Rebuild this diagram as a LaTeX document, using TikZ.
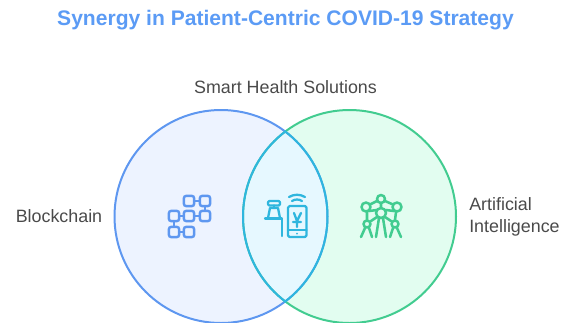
\documentclass[tikz,border=0pt]{standalone}
\usepackage{fontspec}
\setmainfont{Liberation Sans}
\definecolor{titleblue}{HTML}{5B9BF5}
\definecolor{labelgrey}{HTML}{4A4A4A}
\definecolor{lfill}{HTML}{EDF3FF}
\definecolor{lstroke}{HTML}{5E97F0}
\definecolor{rfill}{HTML}{E2FDF0}
\definecolor{rstroke}{HTML}{42CC90}
\definecolor{mfill}{HTML}{E6F8FF}
\definecolor{mstroke}{HTML}{2FB6DE}
\tikzset{
  x=0.75pt,y=-0.75pt,
  venn/.style={circle,minimum size=159.75pt,inner sep=0pt,outer sep=0pt},
  lbl/.style={text=labelgrey,font=\fontsize{13.4pt}{15pt}\selectfont,inner sep=0pt},
  ico/.style={line width=1.7pt,line cap=round,line join=round},
  bbox/.style={draw=lstroke,rounded corners=1.6pt,minimum size=7.6pt,inner sep=0pt,line width=1.8pt,fill=lfill},
}
\begin{document}
\begin{tikzpicture}
\useasboundingbox (0,0) rectangle (571,322);
\clip (0,0) rectangle (571,322);
\node[venn,fill=lfill] (L) at (221,216.5) {};
\node[venn,fill=rfill] (R) at (349.5,216.5) {};
\begin{scope}
  \clip (221,216.5) circle (106.5);
  \fill[mfill] (349.5,216.5) circle (106.5);
\end{scope}
\draw[lstroke,line width=1.5pt] (L.center) circle (106.5);
\draw[rstroke,line width=1.5pt] (R.center) circle (106.5);
\begin{scope}
  \clip (221,216.5) circle (107.5);
  \draw[mstroke,line width=1.5pt] (R.center) circle (106.5);
\end{scope}
\begin{scope}
  \clip (349.5,216.5) circle (107.5);
  \draw[mstroke,line width=1.5pt] (L.center) circle (106.5);
\end{scope}
\node[text=titleblue,font=\bfseries\fontsize{15.8pt}{18pt}\selectfont,inner sep=0pt] (title) at (285.5,20) {Synergy in Patient-Centric COVID-19 Strategy};
\node[lbl] (top) at (285.5,87.5) {Smart Health Solutions};
\node[lbl,anchor=west] (blk) at (15.5,216) {Blockchain};
\node[lbl,anchor=west,align=left,font=\fontsize{13.4pt}{16.5pt}\selectfont] (ai) at (469,217) {Artificial\\Intelligence};
% blockchain icon
\draw[lstroke,line width=1.8pt] (189,201)--(205,201)--(205,216)--(174,216)--(174,232)--(189,232);
\foreach \n/\x/\y in {a/189/201,b/205/201,c/174/216,d/189/216,e/205/216,f/174/232,g/189/232}
  \node[bbox] (\n) at (\x,\y) {};
% centre icon
\begin{scope}[ico,draw=mstroke]
  \draw[rounded corners=1.2pt] (288,206) rectangle (306.5,237);
  \draw (288,230)--(306.5,230);
  \fill[mstroke] (297,233.5) circle (1);
  \draw (294,213)--(297,221)--(301,213) (297,221)--(297,227) (293,222)--(301,222);
  \draw (292,201) .. controls (295,199) and (299,199) .. (302,201);
  \draw (289,197) .. controls (294,194) and (300,194) .. (305,197);
  \draw[rounded corners=1pt] (268,201) rectangle (280,205.5);
  \draw (274,205.5)--(274,208);
  \draw (268,218)--(270,208)--(278,208)--(280,218);
  \draw (265,218.5)--(282,218.5)--(282,236);
\end{scope}
% atom icon
\begin{scope}[ico,draw=rstroke,line width=1.9pt]
  \draw (385,201)--(393,204.5) (377,201)--(370,204.5) (369,211)--(377,210) (394,211)--(386,210)
        (367,212)--(367,220) (396,212)--(395,220)
        (377,217)--(371,221) (385,217)--(391,221)
        (365,228)--(361,237) (369,228)--(372,237)
        (393,228)--(390,237) (397,228)--(401,237)
        (379,218)--(376,237) (383,218)--(386,237)
        (381,203)--(381,208);
  \draw (381,199) circle (4);
  \draw (366,207) circle (4.5);
  \draw (397,207) circle (4.5);
  \draw (381,213) circle (5);
  \draw (367,224) circle (3.5);
  \draw (395,224) circle (3.5);
\end{scope}
\end{tikzpicture}
\end{document}
